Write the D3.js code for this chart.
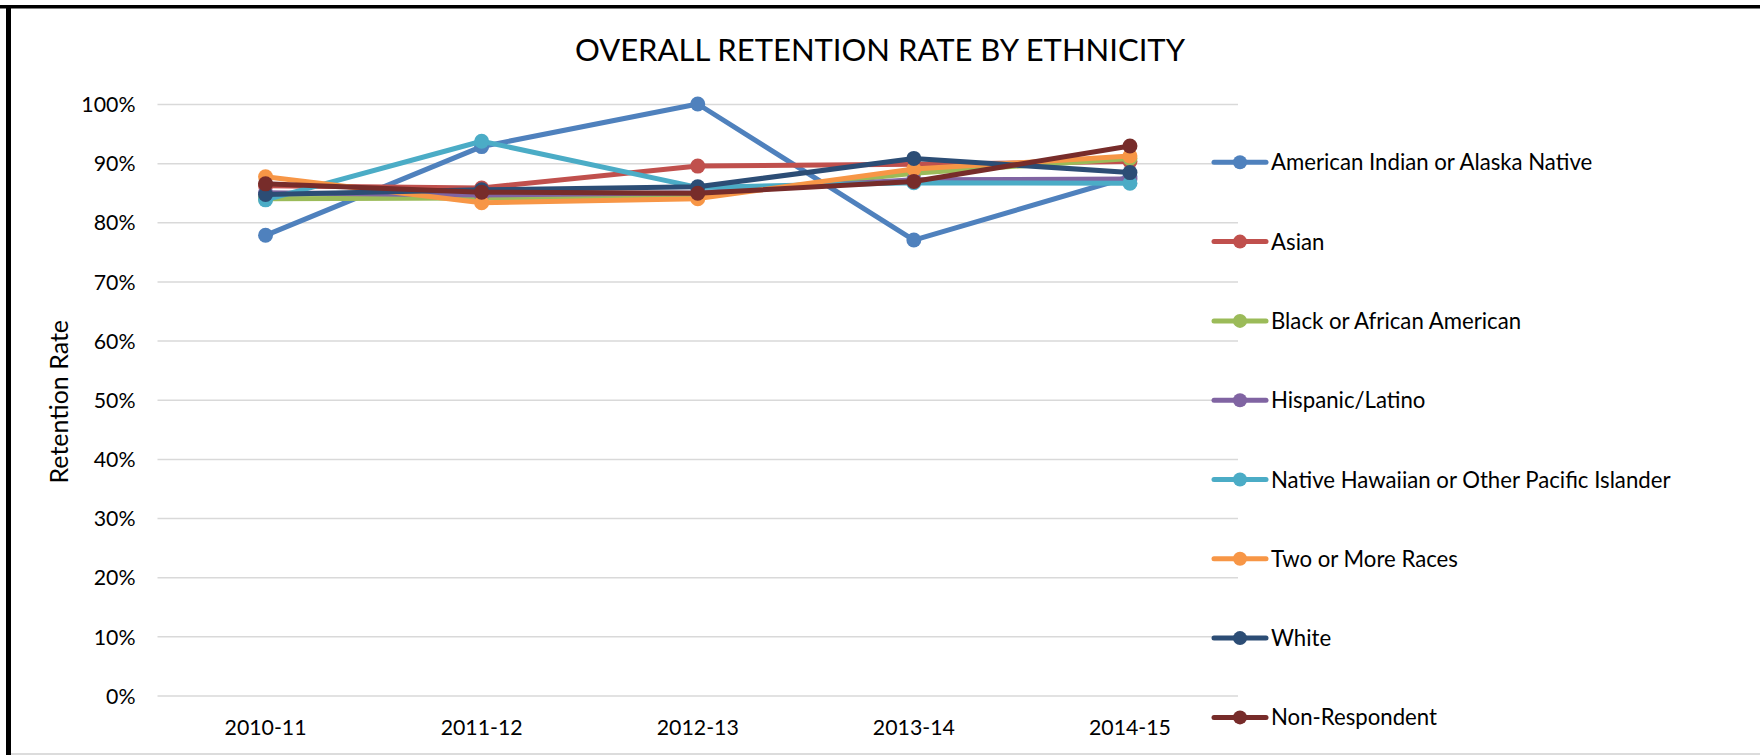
<!DOCTYPE html>
<html lang="en">
<head>
    <meta charset="UTF-8">
    <title>Overall Retention Rate by Ethnicity</title>
    <style>
        body { margin: 0; background: #fff; }
        text { font-family: Lato, "Open Sans", sans-serif; fill: #000; }
        .grid line { stroke: #d9d9d9; stroke-width: 1.5; }
        .series path { fill: none; stroke-width: 5; stroke-linejoin: round; stroke-linecap: round; }
    </style>
</head>
<body>
    <div id="chart"></div>

    <script src="https://d3js.org/d3.v7.min.js"></script>
    <script>
        const years = ["2010-11", "2011-12", "2012-13", "2013-14", "2014-15"];
        const yTicks = [0, 0.1, 0.2, 0.3, 0.4, 0.5, 0.6, 0.7, 0.8, 0.9, 1.0];

        const americanIndian = [0.778, 0.928, 1.000, 0.770, 0.877];
        const asian          = [0.862, 0.858, 0.895, 0.898, 0.903];
        const black          = [0.840, 0.841, 0.845, 0.883, 0.908];
        const hispanic       = [0.850, 0.846, 0.850, 0.872, 0.873];
        const nativeHawaiian = [0.838, 0.937, 0.859, 0.867, 0.866];
        const twoOrMore      = [0.877, 0.833, 0.840, 0.890, 0.912];
        const white          = [0.847, 0.855, 0.860, 0.908, 0.884];
        const nonRespondent  = [0.865, 0.851, 0.849, 0.869, 0.929];

        const seriesNames = [
            "American Indian or Alaska Native",
            "Asian",
            "Black or African American",
            "Hispanic/Latino",
            "Native Hawaiian or Other Pacific Islander",
            "Two or More Races",
            "White",
            "Non-Respondent"
        ];
        const seriesValues = [americanIndian, asian, black, hispanic, nativeHawaiian, twoOrMore, white, nonRespondent];
        const seriesColors = ["#4f81bd", "#c0504d", "#9bbb59", "#8064a2", "#4bacc6", "#f79646", "#2c4d75", "#772c2a"];

        const width = 1760;
        const height = 755;
        const plot = { left: 157.5, right: 1238, top: 104, bottom: 695.5 };

        const svg = d3.select("#chart")
            .append("svg")
            .attr("width", width)
            .attr("height", height);

        svg.append("rect").attr("width", width).attr("height", height).attr("fill", "#fff");

        // frame like the screenshot: black top and left edges, faint grey bottom
        svg.append("rect").attr("x", 0).attr("y", 5).attr("width", width).attr("height", 3.5).attr("fill", "#000");
        svg.append("rect").attr("x", 6).attr("y", 5).attr("width", 5).attr("height", height - 5).attr("fill", "#000");
        svg.append("line")
            .attr("x1", 11).attr("x2", width).attr("y1", 754).attr("y2", 754)
            .attr("stroke", "#d0d0d0").attr("stroke-width", 1.5);

        const x = d3.scaleBand()
            .domain(years)
            .range([plot.left, plot.right]);

        const y = d3.scaleLinear()
            .domain([0, 1])
            .range([plot.bottom, plot.top]);

        svg.append("text")
            .attr("x", 880)
            .attr("y", 50)
            .attr("dy", "0.36em")
            .attr("text-anchor", "middle")
            .style("font-size", "31px")
            .text("OVERALL RETENTION RATE BY ETHNICITY");

        const yAxis = svg.append("g")
            .attr("class", "grid")
            .attr("transform", `translate(${plot.left},0)`)
            .call(d3.axisLeft(y)
                .tickValues(yTicks)
                .tickFormat(d3.format(".0%"))
                .tickSize(-(plot.right - plot.left))
                .tickPadding(22));
        yAxis.select(".domain").remove();
        yAxis.selectAll("text").style("font-size", "21.3px").attr("dy", "0.36em");

        const xAxis = svg.append("g")
            .attr("transform", `translate(0,${plot.bottom})`)
            .call(d3.axisBottom(x).tickSize(0).tickPadding(24));
        xAxis.select(".domain").remove();
        xAxis.selectAll("text").style("font-size", "21.3px");

        svg.append("text")
            .attr("transform", `translate(59,${(plot.top + plot.bottom) / 2 + 2}) rotate(-90)`)
            .attr("text-anchor", "middle")
            .attr("dy", "0.36em")
            .style("font-size", "25px")
            .text("Retention Rate");

        const line = d3.line()
            .x((d, i) => x(years[i]) + x.bandwidth() / 2)
            .y(d => y(d));

        seriesValues.forEach((vals, k) => {
            const g = svg.append("g").attr("class", "series");
            g.append("path")
                .attr("d", line(vals))
                .attr("stroke", seriesColors[k]);
            g.selectAll("circle")
                .data(vals)
                .enter()
                .append("circle")
                .attr("cx", (d, i) => x(years[i]) + x.bandwidth() / 2)
                .attr("cy", d => y(d))
                .attr("r", 7.5)
                .attr("fill", seriesColors[k]);
        });

        // legend
        const legend = svg.append("g").attr("transform", "translate(1212,162.3)");
        seriesNames.forEach((name, i) => {
            const row = legend.append("g").attr("transform", `translate(0,${i * 79.3})`);
            row.append("line")
                .attr("x1", 2).attr("x2", 54)
                .attr("stroke", seriesColors[i])
                .attr("stroke-width", 5)
                .attr("stroke-linecap", "round");
            row.append("circle")
                .attr("cx", 28)
                .attr("r", 7)
                .attr("fill", seriesColors[i]);
            row.append("text")
                .attr("x", 59)
                .attr("dy", "0.36em")
                .style("font-size", "22.2px")
                .text(name);
        });
    </script>
</body>
</html>
